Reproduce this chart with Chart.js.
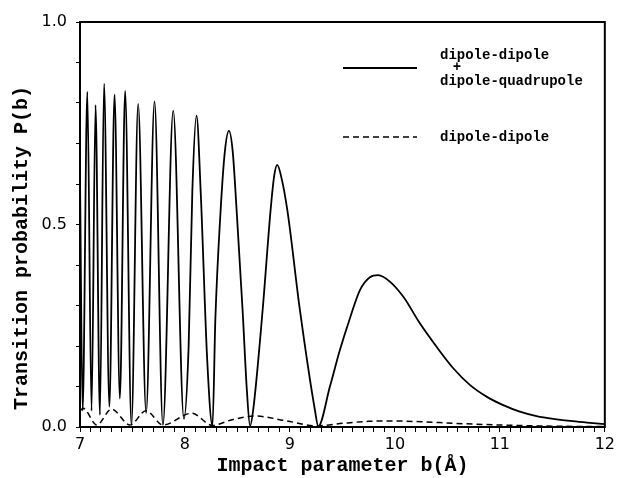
<!DOCTYPE html>
<html>
<head>
<meta charset="utf-8">
<script src="https://cdn.jsdelivr.net/npm/chart.js@4/dist/chart.umd.min.js"></script>
<style>
  html,body{margin:0;padding:0;background:#fff;}
  #wrap{width:618px;height:478px;position:relative;}
</style>
</head>
<body>
<div id="wrap"><canvas id="c"></canvas></div>
<script>
// impact parameter b (Å) and P(b)
const bFull=[7.00,7.025,7.07,7.11,7.148,7.19,7.229,7.28,7.329,7.38,7.43,7.49,7.554,7.63,7.71,7.79,7.888,7.99,
  8.035,8.07,8.11,8.15,8.212,8.262,8.29,8.34,8.38,8.419,8.455,8.492,8.549,8.59,8.62,
  8.65,8.74,8.816,8.85,8.879,8.915,8.975,9.095,9.238,9.27,
  9.381,9.476,9.571,9.667,9.762,9.841,9.952,10.079,10.238,10.397,10.556,10.714,10.873,11.032,11.19,11.35,11.51,11.67,11.83,12.0];
const pFull=[0.62,0.04,0.828,0.04,0.795,0.03,0.848,0.05,0.821,0.07,0.830,0.005,0.798,0.035,0.804,0.005,0.781,0.02,
  0.20,0.58,0.769,0.58,0.165,0.003,0.27,0.536,0.68,0.731,0.68,0.536,0.289,0.09,0.003,
  0.042,0.289,0.536,0.62,0.647,0.62,0.536,0.289,0.042,0.002,
  0.10,0.19,0.268,0.338,0.37,0.375,0.359,0.322,0.256,0.198,0.145,0.104,0.075,0.054,0.038,0.027,0.02,0.015,0.011,0.007];
const bDD=[7.00,7.03,7.16,7.30,7.476,7.629,7.79,8.064,8.26,8.45,8.67,8.95,9.254,9.5,9.75,10.0,10.25,10.5,10.75,11.0,11.5,12.0];
const pDD=[0.04,0.046,0.005,0.044,0.005,0.040,0.005,0.034,0.004,0.018,0.027,0.016,0.003,0.009,0.014,0.015,0.013,0.010,0.007,0.005,0.002,0.001];
const xLabels=[7,8,9,10,11,12];
const yLabels=[0,0.5,1];

const MONO='"Liberation Mono", "DejaVu Sans Mono", monospace';
const SANS='"DejaVu Sans", sans-serif';
const near=(v,arr)=>arr.some(t=>Math.abs(v-t)<1e-6);

const frame={id:'frame',afterDraw(ch){
  const {ctx,chartArea:a}=ch;
  ctx.save();
  ctx.strokeStyle='#000';ctx.lineWidth=2;
  ctx.strokeRect(a.left,a.top,a.right-a.left,a.bottom-a.top);
  // y title
  ctx.fillStyle='#000';ctx.font='bold 20px '+MONO;
  ctx.textAlign='center';ctx.textBaseline='middle';
  ctx.translate(22,a.top+226);ctx.rotate(-Math.PI/2);
  ctx.fillText('Transition probability P(b)',0,0);
  ctx.restore();
  // legend
  ctx.save();
  const lx=a.left+263, rx=a.left+337, tx=a.left+360;
  ctx.strokeStyle='#000';ctx.lineWidth=1.8;
  ctx.beginPath();ctx.moveTo(lx,a.top+46);ctx.lineTo(rx,a.top+46);ctx.stroke();
  ctx.setLineDash([6,4]);ctx.lineWidth=1.5;
  ctx.beginPath();ctx.moveTo(lx,a.top+115);ctx.lineTo(rx,a.top+115);ctx.stroke();
  ctx.setLineDash([]);
  ctx.fillStyle='#000';ctx.font='bold 14px '+MONO;ctx.textBaseline='middle';
  ctx.textAlign='left';
  ctx.fillText('dipole-dipole',tx,a.top+33);
  ctx.fillText('dipole-quadrupole',tx,a.top+59);
  ctx.fillText('dipole-dipole',tx,a.top+115);
  ctx.textAlign='center';
  ctx.fillText('+',tx+17,a.top+45);
  ctx.restore();
}};

new Chart(document.getElementById('c'),{
  type:'line',
  data:{datasets:[
    {label:'dipole-dipole + dipole-quadrupole',data:bFull.map((b,i)=>({x:b,y:pFull[i]})),
     borderColor:'#000',borderWidth:1.8,pointRadius:0,cubicInterpolationMode:'monotone',fill:false},
    {label:'dipole-dipole',data:bDD.map((b,i)=>({x:b,y:pDD[i]})),
     borderColor:'#000',borderWidth:1.5,borderDash:[6,4],pointRadius:0,cubicInterpolationMode:'monotone',fill:false}
  ]},
  options:{
    responsive:true,maintainAspectRatio:false,animation:false,
    layout:{padding:{top:22,right:13,left:0,bottom:0}},
    plugins:{legend:{display:false},tooltip:{enabled:false}},
    scales:{
      x:{type:'linear',min:7,max:12,
        afterFit:s=>{s.height=51;},
        border:{color:'#000',width:2},
        grid:{drawOnChartArea:false,drawTicks:true,tickLength:5,color:'#000'},
        ticks:{stepSize:0.1,autoSkip:false,maxRotation:0,maxTicksLimit:100,padding:3,color:'#000',
          font:{family:SANS,size:16},callback:v=>near(v,xLabels)?String(Math.round(v)):''},
        title:{display:true,text:'Impact parameter b(Å)',color:'#000',padding:{top:0,bottom:0},
          font:{family:MONO,size:20,weight:'bold'}}},
      y:{min:0,max:1,
        afterFit:s=>{s.width=80;},
        border:{color:'#000',width:2},
        grid:{drawOnChartArea:false,drawTicks:true,tickLength:4,color:'#000'},
        ticks:{stepSize:0.1,autoSkip:false,maxTicksLimit:20,padding:9,color:'#000',
          font:{family:SANS,size:16},callback:v=>near(v,yLabels)?v.toFixed(1):''}}
    }
  },
  plugins:[frame]
});
</script>
</body>
</html>
